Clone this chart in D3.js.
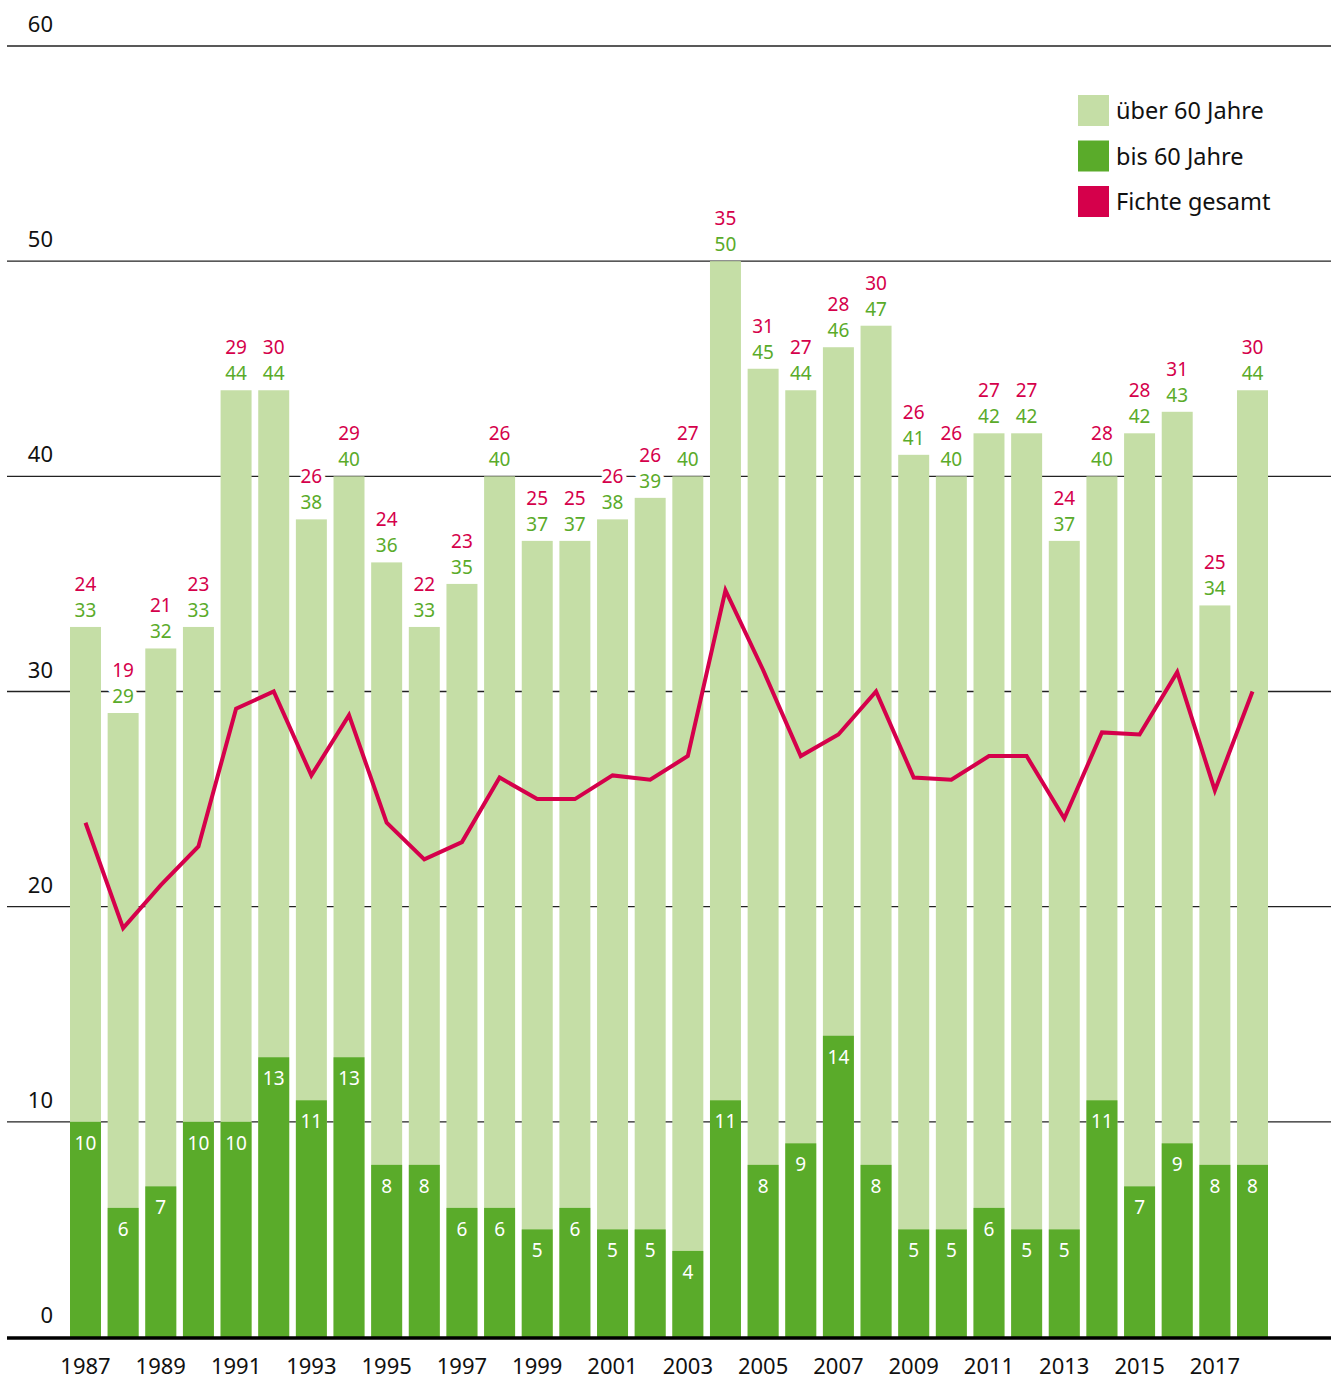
<!DOCTYPE html>
<html>
<head>
<meta charset="utf-8">
<script src="https://cdn.jsdelivr.net/npm/d3@7"></script>
<style>
  body { margin: 0; background: #fff; }
  text { font-family: "Noto Sans", "Open Sans", sans-serif; }
</style>
</head>
<body>
<div id="chart"></div>
<script>
// data
var years = d3.range(1987, 2019);
var totals = [33, 29, 32, 33, 44, 44, 38, 40, 36, 33, 35, 40, 37, 37, 38, 39, 40, 50, 45, 44, 46, 47, 41, 40, 42, 42, 37, 40, 42, 43, 34, 44];
var young = [10, 6, 7, 10, 10, 13, 11, 13, 8, 8, 6, 6, 5, 6, 5, 5, 4, 11, 8, 9, 14, 8, 5, 5, 6, 5, 5, 11, 7, 9, 8, 8];
var fichte = [23.9, 19, 21, 22.8, 29.2, 30, 26.1, 28.9, 23.9, 22.2, 23, 26, 25, 25, 26.1, 25.9, 27, 34.7, 31, 27, 28, 30, 26, 25.9, 27, 27, 24.1, 28.1, 28, 30.9, 25.4, 30];
var yTicks = [0, 10, 20, 30, 40, 50, 60];
var legendItems = ["über 60 Jahre", "bis 60 Jahre", "Fichte gesamt"];

var colLight = "#c5dea6", colDark = "#5aab2a", colRed = "#d5004b";

var width = 1338, height = 1380;
var svg = d3.select("#chart").append("svg")
  .attr("width", width)
  .attr("height", height);

var x = d3.scaleBand()
  .domain(years)
  .range([70, 1268])
  .paddingInner(0.177)
  .paddingOuter(0);

var y = d3.scaleLinear()
  .domain([0, 60])
  .range([1337, 46]);

// gridlines
svg.append("g").selectAll("line")
  .data(yTicks.filter(d => d > 0))
  .enter().append("line")
  .attr("x1", 7).attr("x2", 1331)
  .attr("y1", d => y(d)).attr("y2", d => y(d))
  .attr("stroke", "#222")
  .attr("stroke-width", 1.3);

svg.append("g").selectAll("text")
  .data(yTicks)
  .enter().append("text")
  .attr("x", 53)
  .attr("y", d => y(d) - 14)
  .attr("text-anchor", "end")
  .attr("font-size", 22)
  .attr("fill", "#111")
  .text(d => d);

// bars
var bars = svg.append("g");
bars.selectAll("rect.light")
  .data(years)
  .enter().append("rect")
  .attr("x", d => x(d))
  .attr("width", x.bandwidth())
  .attr("y", (d, i) => y(totals[i]))
  .attr("height", (d, i) => y(0) - y(totals[i]))
  .attr("fill", colLight);

bars.selectAll("rect.dark")
  .data(years)
  .enter().append("rect")
  .attr("x", d => x(d))
  .attr("width", x.bandwidth())
  .attr("y", (d, i) => y(young[i]))
  .attr("height", (d, i) => y(0) - y(young[i]))
  .attr("fill", colDark);

// baseline
svg.append("line")
  .attr("x1", 7).attr("x2", 1331)
  .attr("y1", y(0) + 1).attr("y2", y(0) + 1)
  .attr("stroke", "#000")
  .attr("stroke-width", 3.5);

// fichte line
var line = d3.line()
  .x((d, i) => x(years[i]) + x.bandwidth() / 2)
  .y(d => y(d));

svg.append("path")
  .datum(fichte)
  .attr("d", line)
  .attr("fill", "none")
  .attr("stroke", colRed)
  .attr("stroke-width", 4)
  .attr("stroke-linejoin", "miter");

// labels
var labels = svg.append("g")
  .attr("text-anchor", "middle")
  .attr("font-size", 19);

labels.selectAll("text.tot")
  .data(years)
  .enter().append("text")
  .attr("x", d => x(d) + x.bandwidth() / 2)
  .attr("y", (d, i) => y(totals[i]) - 10)
  .attr("fill", colDark)
  .attr("stroke", "#fff")
  .attr("stroke-width", 8)
  .attr("paint-order", "stroke")
  .text((d, i) => totals[i]);

labels.selectAll("text.fi")
  .data(years)
  .enter().append("text")
  .attr("x", d => x(d) + x.bandwidth() / 2)
  .attr("y", (d, i) => y(totals[i]) - 36)
  .attr("fill", colRed)
  .attr("stroke", "#fff")
  .attr("stroke-width", 8)
  .attr("paint-order", "stroke")
  .text((d, i) => Math.round(fichte[i]));

labels.selectAll("text.young")
  .data(years)
  .enter().append("text")
  .attr("x", d => x(d) + x.bandwidth() / 2)
  .attr("y", (d, i) => y(young[i]) + 28)
  .attr("fill", "#fff")
  .text((d, i) => young[i]);

// x axis labels, every other year
svg.append("g").selectAll("text")
  .data(years.filter((d, i) => i % 2 == 0))
  .enter().append("text")
  .attr("x", d => x(d) + x.bandwidth() / 2)
  .attr("y", 1374)
  .attr("text-anchor", "middle")
  .attr("font-size", 22)
  .attr("fill", "#111")
  .text(d => d);

// legend
var legend = svg.append("g").attr("transform", "translate(1078,95)");
var legendColors = [colLight, colDark, colRed];
legendItems.forEach(function(name, i) {
  var g = legend.append("g").attr("transform", "translate(0," + (i * 45.5) + ")");
  g.append("rect").attr("width", 31).attr("height", 31).attr("fill", legendColors[i]);
  g.append("text")
    .attr("x", 38)
    .attr("y", 24)
    .attr("font-size", 23.5)
    .attr("fill", "#111")
    .text(name);
});
</script>
</body>
</html>
